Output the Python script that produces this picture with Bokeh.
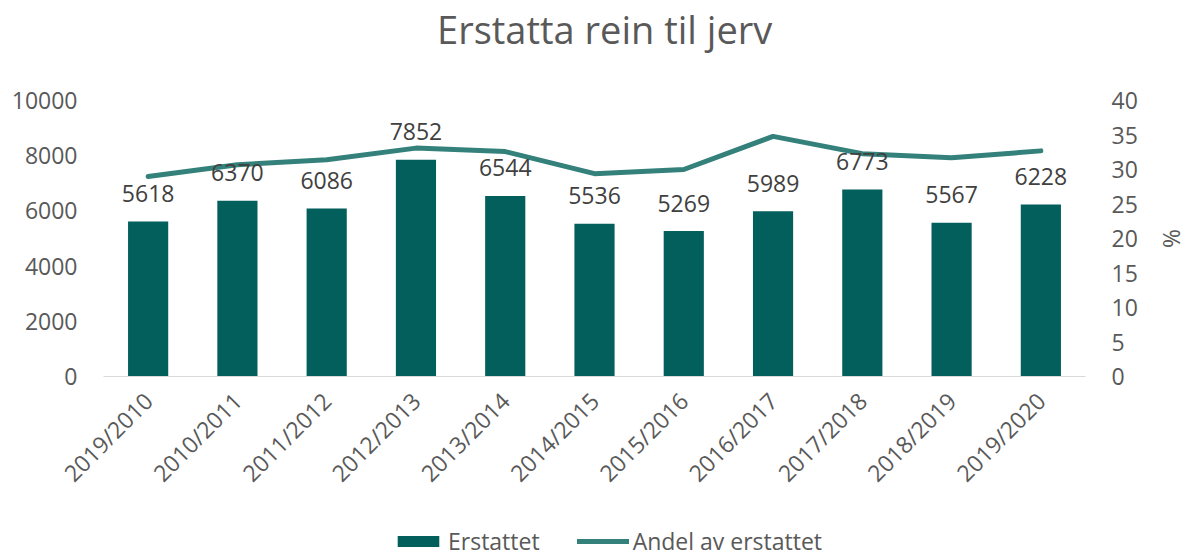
import math
from bokeh.plotting import figure
from bokeh.layouts import column
from bokeh.models import (ColumnDataSource, Range1d, LinearAxis, Legend, LegendItem,
                          FactorRange, FixedTicker)
from bokeh.core.properties import value
from bokeh.embed import file_html
from bokeh.resources import INLINE

title_text = "Erstatta rein til jerv"
seasons = ["2019/2010", "2010/2011", "2011/2012", "2012/2013", "2013/2014", "2014/2015",
           "2015/2016", "2016/2017", "2017/2018", "2018/2019", "2019/2020"]
erstattet = [5618, 6370, 6086, 7852, 6544, 5536, 5269, 5989, 6773, 5567, 6228]
andel = [29.0, 30.7, 31.4, 33.1, 32.6, 29.4, 30.0, 34.8, 32.3, 31.7, 32.7]

FONT = "Open Sans"
GREY = "#595959"
BAR = "#035f5b"
LINE = "#34807b"

src = ColumnDataSource(dict(x=seasons, y=erstattet, lab=[str(v) for v in erstattet], a=andel))

# title strip
tf = figure(width=1183, height=56, output_backend="svg", toolbar_location=None,
            x_range=Range1d(0, 1), y_range=Range1d(0, 1), min_border=0)
tf.axis.visible = False
tf.grid.visible = False
tf.outline_line_color = None
tf.text(x=[0.514], y=[0.5], text=[title_text], text_align="center", text_baseline="middle",
        text_font=value(FONT), text_font_size="38px", text_color=GREY)

p = figure(x_range=FactorRange(*seasons, range_padding=0), y_range=Range1d(0, 10000),
           frame_width=982, frame_height=276, output_backend="svg", toolbar_location=None,
           min_border_left=103, min_border_right=98, min_border_top=44, min_border_bottom=150)
p.extra_y_ranges = {"pct": Range1d(0, 40)}

bars = p.vbar(x="x", top="y", width=0.45, source=src, fill_color=BAR, line_color=None)
ln = p.line(x="x", y="a", source=src, y_range_name="pct", line_color=LINE, line_width=5,
            line_cap="round", line_join="round")
p.text(x="x", y="y", text="lab", source=src, text_align="center", text_baseline="alphabetic",
       y_offset=-28, text_font=value(FONT), text_font_size="23px", text_color="#404040")

p.grid.visible = False
p.outline_line_color = None
p.background_fill_color = None
p.border_fill_color = None

p.yaxis[0].ticker = FixedTicker(ticks=[0, 2000, 4000, 6000, 8000, 10000])
p.yaxis[0].axis_line_color = None

ry = LinearAxis(y_range_name="pct", ticker=FixedTicker(ticks=list(range(0, 45, 5))),
                axis_label="%")
ry.axis_line_color = None
p.add_layout(ry, "right")

for ax in [p.yaxis[0], ry]:
    ax.major_tick_line_color = None
    ax.minor_tick_line_color = None
    ax.major_label_text_font = FONT
    ax.major_label_text_font_size = "23px"
    ax.major_label_text_color = GREY
    ax.major_label_standoff = 20
ry.axis_label_text_font = FONT
ry.axis_label_text_font_size = "23px"
ry.axis_label_text_color = GREY
ry.axis_label_text_font_style = "normal"
ry.axis_label_standoff = 15

xa = p.xaxis[0]
xa.axis_line_color = "#d9d9d9"
xa.axis_line_width = 1
xa.major_tick_line_color = None
xa.minor_tick_line_color = None
xa.major_label_orientation = math.pi / 4
xa.major_label_text_font = FONT
xa.major_label_text_font_size = "23px"
xa.major_label_text_color = GREY
xa.major_label_standoff = 14

# legend strip below the chart
lg = figure(width=1183, height=31, output_backend="svg", toolbar_location=None,
            x_range=Range1d(0, 1), y_range=Range1d(0, 1), min_border=0)
lg.axis.visible = False
lg.grid.visible = False
lg.outline_line_color = None
lb = lg.vbar(x=[-10], top=[-10], width=0.5, fill_color=BAR, line_color=None)
ll = lg.line(x=[-10, -9], y=[-10, -10], line_color=LINE, line_width=5, line_cap="round")
legend = Legend(items=[LegendItem(label="Erstattet", renderers=[lb]),
                       LegendItem(label="Andel av erstattet", renderers=[ll])],
                orientation="horizontal", location=(289, 0), border_line_color=None,
                background_fill_alpha=0, label_text_font=FONT, label_text_font_size="23px",
                label_text_color=GREY, glyph_width=52, glyph_height=14, spacing=37,
                padding=0, margin=0, label_standoff=4, label_height=28)
lg.add_layout(legend, "center")

open("out.html", "w").write(file_html(column(tf, p, lg, spacing=0), INLINE))
